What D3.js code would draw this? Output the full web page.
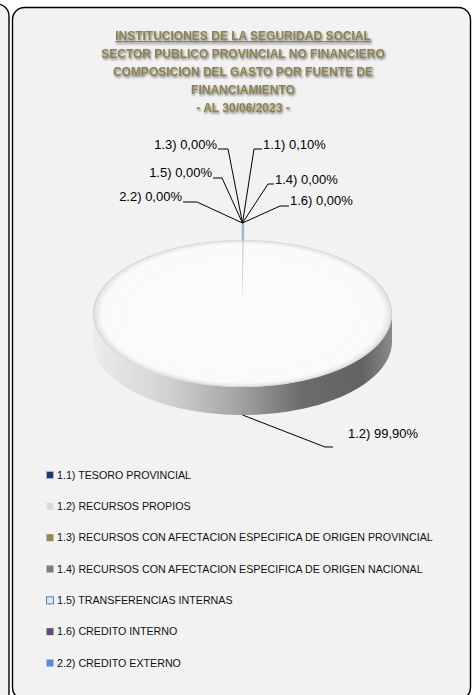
<!DOCTYPE html>
<html>
<head>
<meta charset="utf-8">
<script src="https://cdn.jsdelivr.net/npm/d3@7"></script>
<style>
  body { margin: 0; background: #ffffff; }
  svg { display: block; }
  text { font-family: "Liberation Sans", Arial, sans-serif; }
</style>
</head>
<body>
<div class="chart"></div>
<script>
// Chart data
let titleLines = [
  "INSTITUCIONES DE LA SEGURIDAD SOCIAL",
  "SECTOR PUBLICO PROVINCIAL NO FINANCIERO",
  "COMPOSICION DEL GASTO POR FUENTE DE",
  "FINANCIAMIENTO",
  "-  AL 30/06/2023 -"
];
let codes = ["1.1)", "1.2)", "1.3)", "1.4)", "1.5)", "1.6)", "2.2)"];
let categories = [
  "TESORO PROVINCIAL",
  "RECURSOS PROPIOS",
  "RECURSOS CON AFECTACION ESPECIFICA DE ORIGEN PROVINCIAL",
  "RECURSOS CON AFECTACION ESPECIFICA DE ORIGEN NACIONAL",
  "TRANSFERENCIAS INTERNAS",
  "CREDITO INTERNO",
  "CREDITO EXTERNO"
];
let shares = [0.10, 99.90, 0.00, 0.00, 0.00, 0.00, 0.00];

// Styles
let colors = ["#1f3864", "#dcdcdc", "#948a54", "#7f7f7f", "#dce6f2", "#604a7b", "#558ed5"];
let strokes = ["#9db6d9", "none", "none", "none", "#4f81bd", "none", "none"];
// label layout: text x, baseline y, anchor side, leader elbow x / y
let labelLayout = [
  { x: 263, y: 149, side: "r", ex: 254, ey: 149 },
  { x: 348, y: 438, side: "r", ex: 325, ey: 447 },
  { x: 217, y: 149, side: "l", ex: 228, ey: 149 },
  { x: 275, y: 184, side: "r", ex: 268, ey: 184 },
  { x: 212, y: 177, side: "l", ex: 222, ey: 178 },
  { x: 290, y: 205, side: "r", ex: 280, ey: 206 },
  { x: 182, y: 201, side: "l", ex: 197, ey: 202 }
];

let svgWidth = 473;
let svgHeight = 695;

let svg = d3.select(".chart")
  .append("svg")
  .attr("width", svgWidth)
  .attr("height", svgHeight);

let defs = svg.append("defs");

// title shadow
let shadow = defs.append("filter").attr("id", "tshadow")
  .attr("x", "-10%").attr("y", "-50%").attr("width", "120%").attr("height", "200%");
shadow.append("feDropShadow")
  .attr("dx", 1).attr("dy", 1.5).attr("stdDeviation", 1.3)
  .attr("flood-color", "#000").attr("flood-opacity", 0.55);

// Panels
svg.append("rect")
  .attr("x", -30).attr("y", 4).attr("width", 39).attr("height", 710)
  .attr("rx", 12)
  .attr("fill", "#f2f2f2").attr("stroke", "#000").attr("stroke-width", 1.4);

svg.append("rect")
  .attr("x", 12.5).attr("y", 7.5).attr("width", 458).attr("height", 692)
  .attr("rx", 12)
  .attr("fill", "#f2f2f2").attr("stroke", "#000").attr("stroke-width", 1.4);

// Title
let title = svg.append("g").attr("filter", "url(#tshadow)");
title.selectAll("text")
  .data(titleLines)
  .enter().append("text")
  .attr("x", 243)
  .attr("y", (d, i) => 40 + i * 18)
  .attr("text-anchor", "middle")
  .attr("font-size", 12)
  .attr("font-weight", "bold")
  .attr("fill", "#8c8250")
  .attr("text-decoration", (d, i) => i === 0 ? "underline" : null)
  .text(d => d);

// 3D pie geometry
let cx = 242.5, cy = 313.5, rx = 149.5, ry = 73.5, depth = 28, explode = 17;

let pie = d3.pie().sort(null).value(d => d);
let arcs = pie(shares);

function ept(a, off) {
  off = off || 0;
  return [cx + rx * Math.sin(a), cy - ry * Math.cos(a) + off];
}

function ellipsePoints(a0, a1, off) {
  let n = Math.max(2, Math.ceil((a1 - a0) / 0.02));
  let pts = [];
  for (let i = 0; i <= n; i++) pts.push(ept(a0 + (a1 - a0) * i / n, off));
  return pts;
}

let line = d3.line();

let sideGrad = defs.append("linearGradient").attr("id", "sideGrad")
  .attr("gradientUnits", "userSpaceOnUse")
  .attr("x1", cx - rx).attr("x2", cx + rx).attr("y1", 0).attr("y2", 0);
[[0, "#ececec"], [0.25, "#d2d2d2"], [0.5, "#a0a0a0"], [0.7, "#6c6c6c"], [0.9, "#626262"], [1, "#8a8a8a"]]
  .forEach(s => sideGrad.append("stop").attr("offset", s[0]).attr("stop-color", s[1]));

let topGrad = defs.append("radialGradient").attr("id", "topGrad")
  .attr("cx", "50%").attr("cy", "50%").attr("r", "50%");
[[0, "#fcfcfc"], [0.94, "#fafafa"], [0.985, "#e6e6e6"], [1, "#cfcfcf"]]
  .forEach(s => topGrad.append("stop").attr("offset", s[0]).attr("stop-color", s[1]));

let pieG = svg.append("g");

// side walls (front half only)
arcs.forEach((d, i) => {
  let s = Math.max(d.startAngle, Math.PI / 2);
  let e = Math.min(d.endAngle, Math.PI * 1.5);
  if (s >= e) return;
  let topEdge = ellipsePoints(s, e, 0);
  let bottomEdge = ellipsePoints(s, e, depth).reverse();
  pieG.append("path")
    .attr("d", line(topEdge.concat(bottomEdge)) + "Z")
    .attr("fill", "url(#sideGrad)");
});

// top faces
arcs.forEach((d, i) => {
  if (d.endAngle - d.startAngle <= 0) return;
  let off = i === 0 ? -explode : 0;
  let pts = [[cx, cy + off]].concat(ellipsePoints(d.startAngle, d.endAngle, off));
  pieG.append("path")
    .attr("d", line(pts) + "Z")
    .attr("fill", i === 0 ? strokes[0] : "url(#topGrad)")
    .attr("stroke", strokes[i])
    .attr("stroke-width", i === 0 ? 1.8 : 0);
});

// Data labels
let fmt = d3.formatLocale({ decimal: ",", thousands: ".", grouping: [3], currency: ["", ""] }).format(".2f");

let labels = svg.append("g");
arcs.forEach((d, i) => {
  let L = labelLayout[i];
  let mid = (d.startAngle + d.endAngle) / 2;
  let p;
  if (i === 1) {
    p = ept(Math.PI, depth);
  } else {
    p = ept(mid >= 2 * Math.PI - 1e-9 ? 0 : mid, -explode);
    p[0] = cx;
  }
  let tip = L.side === "r" ? L.x - 1 : L.x + 1;
  if (i === 1) tip = L.ex + 8;
  labels.append("path")
    .attr("d", line([p, [L.ex, L.ey], [tip, L.ey]]))
    .attr("fill", "none")
    .attr("stroke", "#000")
    .attr("stroke-width", 1);
  labels.append("text")
    .attr("x", L.x)
    .attr("y", L.y)
    .attr("text-anchor", L.side === "r" ? "start" : "end")
    .attr("font-size", 13)
    .attr("fill", "#000")
    .text(codes[i] + (i === 3 || i === 5 ? "  " : " ") + fmt(shares[i]) + "%");
});

// Legend
let legendY = d3.scalePoint().domain(categories).range([475, 663]);
let legend = svg.append("g");
categories.forEach((c, i) => {
  let y = legendY(c);
  legend.append("rect")
    .attr("x", 46.5).attr("y", y - 3.5)
    .attr("width", 7).attr("height", 7)
    .attr("fill", colors[i])
    .attr("stroke", strokes[i] === "none" ? null : strokes[i]);
  legend.append("text")
    .attr("x", 57)
    .attr("y", y + 3.8)
    .attr("font-size", 10.7)
    .attr("fill", "#111")
    .text(codes[i] + " " + c);
});
</script>
</body>
</html>
